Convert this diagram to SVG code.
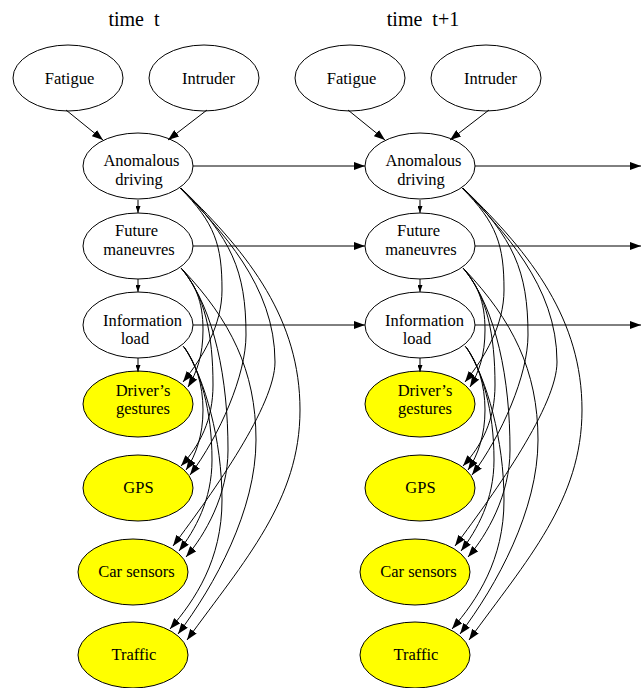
<svg xmlns="http://www.w3.org/2000/svg" width="641" height="688" viewBox="0 0 641 688">
<defs>
<style>
.n ellipse{fill:#fff;stroke:#000;stroke-width:1}
.n.obs ellipse{fill:#ffff00}
text{font-family:"Liberation Serif","Times New Roman",serif;font-size:16.5px;text-anchor:middle;fill:#000}
text.title{font-size:20px}
.e path,.e line{fill:none;stroke:#000;stroke-width:1;marker-end:url(#ah)}
.e .s{marker-end:url(#ahs)}
</style>
<marker id="ah" viewBox="0 0 11 8" refX="11" refY="4" markerWidth="11" markerHeight="8" markerUnits="userSpaceOnUse" orient="auto"><path d="M0,0L11,4L0,8z" fill="#000"/></marker>
<marker id="ahs" viewBox="0 0 7 5" refX="7" refY="2.5" markerWidth="7" markerHeight="5" markerUnits="userSpaceOnUse" orient="auto"><path d="M0,0L7,2.5L0,5z" fill="#000"/></marker>
</defs>
<rect width="641" height="688" fill="#fff"/>
<text class="title" x="134" y="26" xml:space="preserve">time  t</text>
<text class="title" x="423" y="26" xml:space="preserve">time  t+1</text>

<g id="t0-fatigue" class="n"><ellipse cx="68" cy="78" rx="55" ry="33"/><text x="69.5" y="84">Fatigue</text></g>
<g id="t0-intruder" class="n"><ellipse cx="204" cy="78" rx="55" ry="33"/><text x="208.5" y="84">Intruder</text></g>
<g id="t0-anomalous" class="n"><ellipse cx="138" cy="166" rx="55" ry="33"/><text x="141.5" y="166">Anomalous</text><text x="139" y="184.5">driving</text></g>
<g id="t0-future" class="n"><ellipse cx="138" cy="246" rx="55" ry="33"/><text x="136.5" y="236">Future</text><text x="139" y="254.5">maneuvres</text></g>
<g id="t0-info" class="n"><ellipse cx="138" cy="325" rx="55" ry="33"/><text x="142.5" y="325.5">Information</text><text x="135" y="344">load</text></g>
<g id="t0-gestures" class="n obs"><ellipse cx="138" cy="404" rx="55" ry="33"/><text x="143" y="395.5">Driver’s</text><text x="143" y="414">gestures</text></g>
<g id="t0-gps" class="n obs"><ellipse cx="138" cy="488" rx="55" ry="33"/><text x="138.5" y="493">GPS</text></g>
<g id="t0-car" class="n obs"><ellipse cx="133" cy="572" rx="55" ry="33"/><text x="136.5" y="577">Car sensors</text></g>
<g id="t0-traffic" class="n obs"><ellipse cx="133" cy="655" rx="55" ry="33"/><text x="134" y="660">Traffic</text></g>

<g id="t1-fatigue" class="n"><ellipse cx="350" cy="78" rx="55" ry="33"/><text x="351.5" y="84">Fatigue</text></g>
<g id="t1-intruder" class="n"><ellipse cx="486" cy="78" rx="55" ry="33"/><text x="490.5" y="84">Intruder</text></g>
<g id="t1-anomalous" class="n"><ellipse cx="420" cy="166" rx="55" ry="33"/><text x="423.5" y="166">Anomalous</text><text x="421" y="184.5">driving</text></g>
<g id="t1-future" class="n"><ellipse cx="420" cy="246" rx="55" ry="33"/><text x="418.5" y="236">Future</text><text x="421" y="254.5">maneuvres</text></g>
<g id="t1-info" class="n"><ellipse cx="420" cy="325" rx="55" ry="33"/><text x="424.5" y="325.5">Information</text><text x="417" y="344">load</text></g>
<g id="t1-gestures" class="n obs"><ellipse cx="420" cy="404" rx="55" ry="33"/><text x="425" y="395.5">Driver’s</text><text x="425" y="414">gestures</text></g>
<g id="t1-gps" class="n obs"><ellipse cx="420" cy="488" rx="55" ry="33"/><text x="420.5" y="493">GPS</text></g>
<g id="t1-car" class="n obs"><ellipse cx="415" cy="572" rx="55" ry="33"/><text x="418.5" y="577">Car sensors</text></g>
<g id="t1-traffic" class="n obs"><ellipse cx="415" cy="655" rx="55" ry="33"/><text x="416" y="660">Traffic</text></g>

<g id="connectors" class="e">
<g id="slice-t0">
<line x1="66" y1="110" x2="103" y2="140"/>
<line x1="207" y1="110" x2="168" y2="140"/>
<line class="s" x1="138" y1="200" x2="138" y2="213"/>
<line class="s" x1="138" y1="279" x2="138" y2="292"/>
<line class="s" x1="138" y1="358" x2="138" y2="372"/>
<path d="M180,188C215,223 222,245 222,290C222,325 203,357 183,382"/>
<path d="M181,268C195,285 203,300 203,330C203,355 197,372 188,387"/>
<path d="M181,188C231,238 246,270 246,335C246,375 220,435 190,475"/>
<path d="M182,189C220,230 275,285 275,362C275,405 215,490 173,546"/>
<path d="M183,190C250,255 300,320 300,410C300,500 245,560 187,640"/>
<path d="M181,268C205,295 213,335 213,385C213,420 200,445 181,466"/>
<path d="M182,269C215,310 228,380 228,450C228,495 205,535 186,557"/>
<path d="M183,270C230,320 256,370 256,440C256,510 215,585 178,634"/>
<path d="M183,346C196,362 203,385 203,410C203,435 196,455 186,470"/>
<path d="M184,347C200,370 212,410 212,460C212,500 195,530 179,551"/>
<path d="M185,348C205,380 222,440 222,500C222,560 195,600 170,629"/>
</g>
<line x1="193" y1="166" x2="365" y2="166"/>
<line x1="193" y1="246" x2="365" y2="246"/>
<line x1="193" y1="325" x2="365" y2="325"/>
<use href="#slice-t0" x="282"/>
<line x1="475" y1="166" x2="641" y2="166"/>
<line x1="475" y1="246" x2="641" y2="246"/>
<line x1="475" y1="325" x2="641" y2="325"/>
</g>
</svg>
